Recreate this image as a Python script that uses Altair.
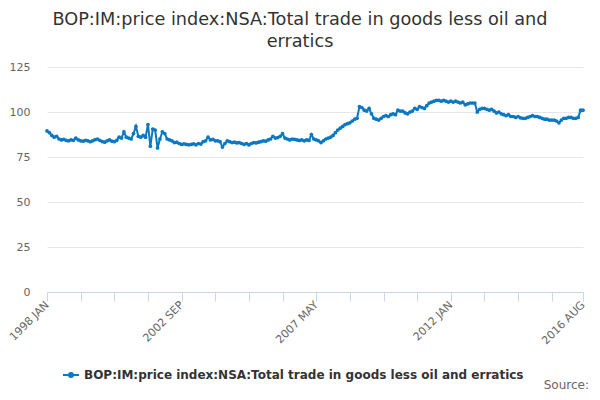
import altair as alt
import pandas as pd

years = list(range(1998, 2017))
month_names = ["JAN", "FEB", "MAR", "APR", "MAY", "JUN",
               "JUL", "AUG", "SEP", "OCT", "NOV", "DEC"]

values = [
    # 1998
    89.5, 88.5, 87, 86, 86.5, 85, 84.5, 84.8, 84.2, 84, 84.5, 84.3,
    # 1999
    85.5, 84.5, 84, 83.8, 84.2, 84, 83.5, 84, 84.6, 85, 84.2, 83.6,
    # 2000
    83.2, 84, 84.5, 83.8, 83.5, 84.2, 86, 85.5, 89, 86, 85.5, 85,
    # 2001
    88, 92, 86.5, 86, 87, 86, 93, 81, 90.5, 90, 80, 85,
    # 2002
    89, 88, 85, 84.5, 84, 83, 83.2, 82.5, 82, 82.3, 82, 81.8,
    # 2003
    82, 82.3, 81.8, 82.5, 82.2, 83.5, 84, 86, 84.5, 84.8, 84, 84,
    # 2004
    83.5, 80.5, 82.5, 84, 83.5, 83, 83.2, 82.8, 83, 82.5, 82, 82.5,
    # 2005
    81.7, 82.5, 83, 82.8, 83.2, 83.5, 84, 83.8, 84.5, 85, 86.5, 85.5,
    # 2006
    85.8, 86.5, 88, 85.5, 85, 84.5, 85, 84.8, 84.5, 84.2, 84.5, 84,
    # 2007
    84.5, 84.2, 87.5, 85, 84.5, 84, 83, 84, 85, 85.5, 86, 87,
    # 2008
    88.5, 90, 91, 92, 93, 93.5, 94, 95, 96, 96.5, 103, 102.5,
    # 2009
    101, 100.5, 102, 99, 96.5, 96, 95.5, 96.5, 97.5, 98, 97.5, 98.5,
    # 2010
    99, 98.5, 101, 100.5, 100.5, 99.5, 99, 100, 100.5, 102, 101.5, 103,
    # 2011
    102.5, 102, 103.5, 105, 105.5, 106, 106.5, 106.5, 106, 106.5, 106, 105.5,
    # 2012
    106, 105.5, 106, 105.5, 105, 105.5, 104, 104.5, 105, 105, 105, 100,
    # 2013
    101.5, 102, 102, 101.5, 101, 101.5, 100.5, 99.5, 100, 99, 98.5, 98,
    # 2014
    98.5, 97.5, 97.5, 97, 97.5, 96.8, 96.5, 96.5, 97, 97.5, 98, 97.5,
    # 2015
    97.5, 97, 96.5, 96, 96, 95.5, 95.5, 95.5, 95, 94, 95.5, 96.5,
    # 2016
    96.5, 97, 97, 96.5, 96.5, 97, 101, 101,
]

labels = [f"{y} {m}" for y in years for m in month_names][:len(values)]
series_name = "BOP:IM:price index:NSA:Total trade in goods less oil and erratics"
title_lines = ["BOP:IM:price index:NSA:Total trade in goods less oil and", "erratics"]
shown_labels = ["1998 JAN", "2002 SEP", "2007 MAY", "2012 JAN", "2016 AUG"]
tick_values = [labels[i] for i in list(range(0, 211, 14)) + [223]]
y_ticks = [0, 25, 50, 75, 100, 125]

df = pd.DataFrame({"month": labels, "value": values, "series": series_name})
src = pd.DataFrame({"t": ["Source:"]})

FONT = "DejaVu Sans"
BLUE = "#0a78c2"

label_expr = "indexof([" + ",".join(f"'{s}'" for s in shown_labels) + "], datum.value) >= 0 ? datum.value : ''"

base = alt.Chart(df).encode(
    x=alt.X(
        "month:O",
        sort=labels,
        scale=alt.Scale(type="point", padding=0),
        axis=alt.Axis(
            title=None,
            values=tick_values,
            labelExpr=label_expr,
            labelAngle=315,
            labelAlign="right",
            labelBaseline="middle",
            labelFontSize=11,
            labelColor="#666666",
            labelFont=FONT,
            labelPadding=2,
            tickSize=9,
            tickColor="#ccd6eb",
            domainColor="#ccd6eb",
            grid=False,
            labelOverlap=False,
        ),
    ),
    y=alt.Y(
        "value:Q",
        scale=alt.Scale(domain=[0, 125]),
        axis=alt.Axis(
            title=None,
            values=y_ticks,
            domain=False,
            ticks=False,
            labelPadding=17,
            labelFontSize=11,
            labelColor="#666666",
            labelFont=FONT,
            gridColor="#e6e6e6",
        ),
    ),
    color=alt.Color(
        "series:N",
        scale=alt.Scale(range=[BLUE]),
        legend=alt.Legend(
            title=None,
            orient="none",
            legendX=15,
            legendY=299,
            labelFont=FONT,
            labelFontSize=12,
            labelFontWeight="bold",
            labelColor="#333333",
            symbolType="M -1 0 L 1 0 M -0.25 0 A 0.25 0.25 0 1 1 0.25 0 A 0.25 0.25 0 1 1 -0.25 0",
            symbolSize=256,
            symbolStrokeWidth=2,
            symbolStrokeColor=BLUE,
            symbolFillColor=BLUE,
            labelLimit=600,
        ),
    ),
)

line = base.mark_line(strokeWidth=2)
pts = base.mark_point(filled=True, size=14, opacity=1)

source = alt.Chart(src).mark_text(
    align="right", baseline="alphabetic", fontSize=12, color="#666666", font=FONT
).encode(x=alt.value(542), y=alt.value(322), text="t:N")

chart = alt.layer(line, pts, source).properties(
    width=536,
    height=225,
    autosize=alt.AutoSizeParams(type="none"),
    padding={"left": 39, "top": 59, "right": 9, "bottom": 100},
    title=alt.TitleParams(
        text=title_lines,
        anchor="middle",
        frame="group",
        dx=-15,
        offset=10,
        fontSize=17.7,
        font=FONT,
        fontWeight="normal",
        color="#333333",
        lineHeight=22,
    ),
).configure_view(stroke=None)

chart.save("out.html", embed_options={"renderer": "svg", "actions": False})
